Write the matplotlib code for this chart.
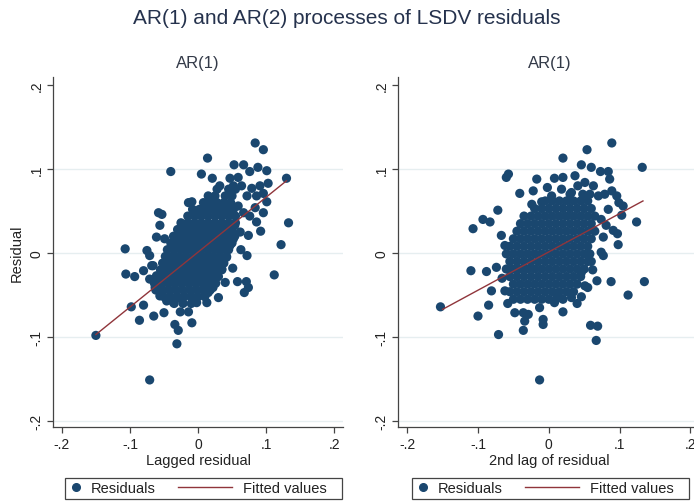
import matplotlib
matplotlib.use("Agg")
import matplotlib.pyplot as plt
from matplotlib.lines import Line2D
from matplotlib.patches import Rectangle
import numpy as np

plt.rcParams['font.family'] = ['Liberation Sans', 'DejaVu Sans']

# residual vs. first lag
lag1_pts = [
    # scattered points
    (0.084, 0.131), (0.096, 0.123), (0.014, 0.113), (-0.040, 0.097), (0.005, 0.094),
    (0.053, 0.105), (0.067, 0.105), (0.088, 0.102), (0.101, 0.098), (0.076, 0.097),
    (0.130, 0.089), (0.103, 0.083), (0.021, 0.089), (0.047, 0.089), (0.032, 0.080),
    (0.079, 0.077), (0.091, 0.080), (0.064, 0.080), (0.096, 0.071), (0.101, 0.061),
    (-0.014, 0.060), (-0.009, 0.061), (0.084, 0.054), (0.096, 0.048), (-0.058, 0.048),
    (-0.053, 0.046), (0.133, 0.036), (0.086, 0.037), (0.092, 0.026), (0.074, 0.021),
    (0.122, 0.010), (-0.107, 0.005), (-0.075, 0.003), (-0.071, -0.003), (0.063, 0.004),
    (0.072, -0.003), (0.051, -0.018), (0.112, -0.026), (-0.106, -0.025), (-0.093, -0.028),
    (-0.080, -0.021), (-0.068, -0.015), (0.058, -0.034), (0.071, -0.034), (0.074, -0.041),
    (0.068, -0.047), (-0.098, -0.064), (-0.080, -0.062), (-0.086, -0.080), (-0.065, -0.075),
    (-0.050, -0.071), (-0.026, -0.070), (-0.014, -0.070), (-0.002, -0.059), (-0.009, -0.083),
    (-0.034, -0.085), (-0.029, -0.092), (-0.031, -0.108), (-0.150, -0.098), (-0.071, -0.151),
    (0.013, -0.059), (0.030, -0.053), (0.040, -0.035), (0.022, -0.041),
    (0.059, 0.090), (0.052, 0.080), (0.072, 0.068), (0.086, 0.068), (0.059, 0.056),
    (0.067, 0.048), (0.076, 0.044), (0.054, 0.033), (0.062, 0.025), (0.052, 0.017),
    (0.047, 0.009), (0.042, -0.005), (0.035, -0.019), (0.023, -0.027), (0.013, -0.035),
    (0.015, -0.047), (-0.056, 0.033), (-0.061, 0.019), (-0.049, 0.017), (-0.066, -0.015),
    (-0.061, -0.027), (-0.071, -0.031), (-0.063, -0.041), (-0.056, -0.051), (-0.046, -0.057),
    (-0.036, -0.059), (-0.024, -0.055),
    # dense core
    (-0.035, -0.060), (-0.022, -0.060), (-0.010, -0.060),
    (-0.050, -0.052), (-0.040, -0.052), (-0.030, -0.052), (-0.020, -0.052), (-0.010, -0.052),
    (0.000, -0.052), (0.010, -0.052),
    (-0.062, -0.044), (-0.052, -0.044), (-0.042, -0.044), (-0.032, -0.044), (-0.022, -0.044),
    (-0.012, -0.044), (-0.002, -0.044), (0.008, -0.044), (0.018, -0.044),
    (-0.064, -0.036), (-0.054, -0.036), (-0.044, -0.036), (-0.034, -0.036), (-0.024, -0.036),
    (-0.014, -0.036), (-0.004, -0.036), (0.006, -0.036), (0.016, -0.036), (0.026, -0.036),
    (-0.060, -0.028), (-0.050, -0.028), (-0.040, -0.028), (-0.030, -0.028), (-0.020, -0.028),
    (-0.010, -0.028), (0.000, -0.028), (0.010, -0.028), (0.020, -0.028), (0.030, -0.028),
    (-0.055, -0.020), (-0.045, -0.020), (-0.035, -0.020), (-0.025, -0.020), (-0.015, -0.020),
    (-0.005, -0.020), (0.005, -0.020), (0.015, -0.020), (0.025, -0.020), (0.035, -0.020),
    (-0.052, -0.012), (-0.042, -0.012), (-0.032, -0.012), (-0.022, -0.012), (-0.012, -0.012),
    (-0.002, -0.012), (0.008, -0.012), (0.018, -0.012), (0.028, -0.012), (0.038, -0.012),
    (-0.048, -0.004), (-0.038, -0.004), (-0.028, -0.004), (-0.018, -0.004), (-0.008, -0.004),
    (0.002, -0.004), (0.012, -0.004), (0.022, -0.004), (0.032, -0.004), (0.042, -0.004),
    (-0.045, 0.004), (-0.035, 0.004), (-0.025, 0.004), (-0.015, 0.004), (-0.005, 0.004),
    (0.005, 0.004), (0.015, 0.004), (0.025, 0.004), (0.035, 0.004), (0.045, 0.004),
    (-0.040, 0.012), (-0.030, 0.012), (-0.020, 0.012), (-0.010, 0.012), (0.000, 0.012),
    (0.010, 0.012), (0.020, 0.012), (0.030, 0.012), (0.040, 0.012), (0.050, 0.012),
    (-0.036, 0.020), (-0.026, 0.020), (-0.016, 0.020), (-0.006, 0.020), (0.004, 0.020),
    (0.014, 0.020), (0.024, 0.020), (0.034, 0.020), (0.044, 0.020), (0.054, 0.020),
    (-0.030, 0.028), (-0.020, 0.028), (-0.010, 0.028), (0.000, 0.028), (0.010, 0.028),
    (0.020, 0.028), (0.030, 0.028), (0.040, 0.028), (0.050, 0.028),
    (-0.025, 0.036), (-0.015, 0.036), (-0.005, 0.036), (0.005, 0.036), (0.015, 0.036),
    (0.025, 0.036), (0.035, 0.036), (0.045, 0.036), (0.055, 0.036),
    (-0.015, 0.044), (-0.005, 0.044), (0.005, 0.044), (0.015, 0.044), (0.025, 0.044),
    (0.035, 0.044), (0.045, 0.044), (0.055, 0.044),
    (-0.008, 0.052), (0.002, 0.052), (0.012, 0.052), (0.022, 0.052), (0.032, 0.052),
    (0.042, 0.052), (0.052, 0.052),
    (0.008, 0.060), (0.018, 0.060), (0.028, 0.060), (0.038, 0.060), (0.048, 0.060),
    (0.015, 0.068), (0.025, 0.068), (0.040, 0.068), (0.050, 0.068),
    (0.028, 0.076), (0.045, 0.076), (0.055, 0.076),
]

# residual vs. second lag
lag2_pts = [
    # scattered points
    (0.089, 0.131), (0.054, 0.123), (0.020, 0.113), (0.046, 0.105), (0.060, 0.102),
    (0.132, 0.102), (0.073, 0.097), (0.084, 0.097), (-0.057, 0.094), (-0.060, 0.090),
    (-0.017, 0.088), (0.008, 0.089), (0.020, 0.090), (0.037, 0.092), (0.086, 0.088),
    (-0.041, 0.071), (-0.022, 0.074), (-0.002, 0.078), (-0.072, 0.051), (-0.093, 0.040),
    (-0.083, 0.037), (-0.107, 0.029), (0.124, 0.037), (0.103, 0.045), (0.097, 0.023),
    (0.098, 0.010), (0.074, 0.001), (0.077, -0.003), (-0.110, -0.021), (-0.088, -0.022),
    (-0.074, -0.017), (-0.081, -0.045), (-0.085, -0.062), (-0.100, -0.075), (-0.071, -0.097),
    (-0.153, -0.064), (0.112, -0.050), (0.135, -0.034), (0.088, -0.034), (0.068, -0.033),
    (0.051, -0.039), (0.055, -0.041), (0.046, -0.052), (0.046, -0.023), (0.020, -0.070),
    (-0.013, -0.065), (-0.036, -0.071), (-0.029, -0.073), (-0.048, -0.071), (-0.034, -0.081),
    (-0.008, -0.079), (-0.008, -0.085), (-0.036, -0.092), (0.059, -0.086), (0.069, -0.087),
    (0.067, -0.104), (-0.013, -0.151), (0.008, -0.059), (0.013, -0.051), (0.032, -0.053),
    (-0.024, 0.058), (-0.010, 0.061), (0.004, 0.068), (0.018, 0.076), (0.032, 0.072),
    (0.041, 0.080), (0.051, 0.084), (0.063, 0.080), (0.070, 0.068), (0.079, 0.070),
    (0.089, 0.074), (0.096, 0.068), (0.099, 0.060), (0.105, 0.056), (0.084, 0.052),
    (0.074, 0.040), (0.081, 0.033), (0.091, 0.027), (0.077, 0.019),
    (-0.067, 0.021), (-0.062, 0.009), (-0.066, -0.030), (-0.062, -0.045), (-0.058, -0.060),
    (0.060, -0.010), (0.062, -0.020), (0.040, -0.060),
    # dense core
    (-0.050, -0.055), (-0.040, -0.055), (-0.030, -0.055), (-0.020, -0.055), (-0.010, -0.055),
    (0.000, -0.055), (0.010, -0.055), (0.020, -0.055),
    (-0.055, -0.046), (-0.045, -0.046), (-0.035, -0.046), (-0.025, -0.046), (-0.015, -0.046),
    (-0.005, -0.046), (0.005, -0.046), (0.015, -0.046), (0.025, -0.046), (0.035, -0.046),
    (-0.050, -0.037), (-0.040, -0.037), (-0.030, -0.037), (-0.020, -0.037), (-0.010, -0.037),
    (0.000, -0.037), (0.010, -0.037), (0.020, -0.037), (0.030, -0.037), (0.040, -0.037),
    (-0.055, -0.028), (-0.045, -0.028), (-0.035, -0.028), (-0.025, -0.028), (-0.015, -0.028),
    (-0.005, -0.028), (0.005, -0.028), (0.015, -0.028), (0.025, -0.028), (0.035, -0.028),
    (0.045, -0.028),
    (-0.060, -0.019), (-0.050, -0.019), (-0.040, -0.019), (-0.030, -0.019), (-0.020, -0.019),
    (-0.010, -0.019), (0.000, -0.019), (0.010, -0.019), (0.020, -0.019), (0.030, -0.019),
    (0.040, -0.019), (0.050, -0.019),
    (-0.055, -0.010), (-0.045, -0.010), (-0.035, -0.010), (-0.025, -0.010), (-0.015, -0.010),
    (-0.005, -0.010), (0.005, -0.010), (0.015, -0.010), (0.025, -0.010), (0.035, -0.010),
    (0.045, -0.010), (0.055, -0.010),
    (-0.060, -0.001), (-0.050, -0.001), (-0.040, -0.001), (-0.030, -0.001), (-0.020, -0.001),
    (-0.010, -0.001), (0.000, -0.001), (0.010, -0.001), (0.020, -0.001), (0.030, -0.001),
    (0.040, -0.001), (0.050, -0.001), (0.058, -0.001),
    (-0.055, 0.008), (-0.045, 0.008), (-0.035, 0.008), (-0.025, 0.008), (-0.015, 0.008),
    (-0.005, 0.008), (0.005, 0.008), (0.015, 0.008), (0.025, 0.008), (0.035, 0.008),
    (0.045, 0.008), (0.055, 0.008),
    (-0.050, 0.017), (-0.040, 0.017), (-0.030, 0.017), (-0.020, 0.017), (-0.010, 0.017),
    (0.000, 0.017), (0.010, 0.017), (0.020, 0.017), (0.030, 0.017), (0.040, 0.017),
    (0.050, 0.017), (0.060, 0.017),
    (-0.045, 0.026), (-0.035, 0.026), (-0.025, 0.026), (-0.015, 0.026), (-0.005, 0.026),
    (0.005, 0.026), (0.015, 0.026), (0.025, 0.026), (0.035, 0.026), (0.045, 0.026),
    (0.055, 0.026), (0.065, 0.026),
    (-0.040, 0.035), (-0.030, 0.035), (-0.020, 0.035), (-0.010, 0.035), (0.000, 0.035),
    (0.010, 0.035), (0.020, 0.035), (0.030, 0.035), (0.040, 0.035), (0.050, 0.035),
    (0.060, 0.035),
    (-0.035, 0.044), (-0.025, 0.044), (-0.015, 0.044), (-0.005, 0.044), (0.005, 0.044),
    (0.015, 0.044), (0.025, 0.044), (0.035, 0.044), (0.045, 0.044), (0.055, 0.044),
    (0.065, 0.044),
    (-0.020, 0.053), (-0.010, 0.053), (0.000, 0.053), (0.010, 0.053), (0.020, 0.053),
    (0.030, 0.053), (0.040, 0.053), (0.050, 0.053), (0.060, 0.053),
    (-0.005, 0.062), (0.005, 0.062), (0.015, 0.062), (0.025, 0.062), (0.035, 0.062),
    (0.045, 0.062), (0.055, 0.062),
    (0.030, 0.070), (0.048, 0.070), (0.058, 0.070),
]

# fitted-value lines (end points)
fit1_x = [-0.150, 0.130]
fit1_y = [-0.097, 0.086]
fit2_x = [-0.150, 0.133]
fit2_y = [-0.067, 0.062]

ticks = [-0.2, -0.1, 0, 0.1, 0.2]
tick_labels = ['-.2', '-.1', '0', '.1', '.2']

navy = '#1a476f'
maroon = '#90353b'

W, H = 694, 502
fig = plt.figure(figsize=(W / 100, H / 100), dpi=100)
fig.patch.set_facecolor('white')

fig.text(0.5, 1 - 18 / H, 'AR(1) and AR(2) processes of LSDV residuals',
         ha='center', va='center', fontsize=15, color='#25324d')


def panel(left_px, right_px, pts, fx, fy, xlabel, ylabel, xlim):
    ax = fig.add_axes([left_px / W, 1 - 428 / H, (right_px - left_px) / W, 350 / H])
    ax.set_facecolor('white')
    pts = np.array(pts)
    for g in [-0.2, -0.1, 0, 0.1]:
        ax.axhline(g, color='#e6eef0', lw=1, zorder=0)
    ax.scatter(pts[:, 0], pts[:, 1], s=44, color=navy, edgecolors='none', zorder=2)
    ax.plot(fx, fy, color=maroon, lw=1, zorder=3)
    ax.set_xlim(*xlim)
    ax.set_ylim(-0.207, 0.2095)
    ax.set_xticks(ticks)
    ax.set_xticklabels(tick_labels)
    ax.set_yticks(ticks)
    ax.set_yticklabels(tick_labels, rotation=90, va='center')
    for s in ['top', 'right']:
        ax.spines[s].set_visible(False)
    for s in ['left', 'bottom']:
        ax.spines[s].set_color('#444444')
        ax.spines[s].set_linewidth(0.9)
    ax.tick_params(direction='out', length=4, width=0.9, color='#444444',
                   labelsize=10, labelcolor='#222222', pad=3)
    ax.set_xlabel(xlabel, fontsize=10.5, color='#222222', labelpad=2)
    if ylabel:
        ax.set_ylabel(ylabel, fontsize=10.5, color='#222222', labelpad=4)
    ax.set_title('AR(1)', fontsize=12, color='#333a48', pad=7)
    return ax


panel(53, 343, lag1_pts, fit1_x, fit1_y, 'Lagged residual', 'Residual', (-0.213, 0.213))
panel(398, 701, lag2_pts, fit2_x, fit2_y, '2nd lag of residual', None, (-0.213, 0.215))

# legends (Stata style box under each panel)
for box_left in [65, 412]:
    yc = 1 - 489.5 / H
    fig.add_artist(Rectangle((box_left / W, 1 - 500 / H), 277 / W, 21 / H,
                             transform=fig.transFigure, fill=False,
                             edgecolor='#444444', lw=0.9))
    dot = Line2D([], [], marker='o', ls='none', color=navy, markersize=5.5)
    fig.legend([dot], ['Residuals'], loc='center left',
               bbox_to_anchor=((box_left + 5) / W, yc), frameon=False,
               handlelength=0.8, handletextpad=0.6, borderpad=0, borderaxespad=0,
               fontsize=10.5, labelcolor='#222222')
    line = Line2D([], [], color=maroon, lw=1)
    fig.legend([line], ['Fitted values'], loc='center left',
               bbox_to_anchor=((box_left + 113) / W, yc), frameon=False,
               handlelength=3.7, handletextpad=0.75, borderpad=0, borderaxespad=0,
               fontsize=10.5, labelcolor='#222222')

fig.savefig('out.png', dpi=100)
